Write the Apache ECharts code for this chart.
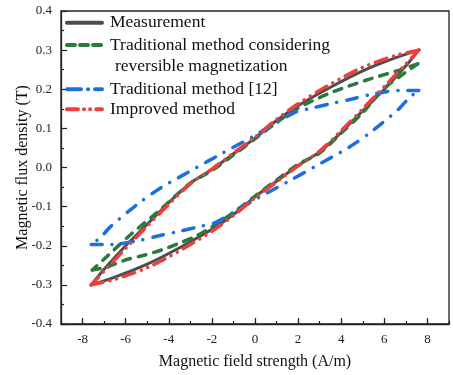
<!DOCTYPE html>
<html>
<head>
<meta charset="utf-8">
<script src="https://cdn.jsdelivr.net/npm/echarts@6/dist/echarts.min.js"></script>
<style>html,body{margin:0;padding:0;background:#fff}#c{width:453px;height:375px}</style>
</head>
<body>
<div id="c"></div>
<script>
// Measurement loop
const measUpperH = [7.6, 6.5, 5, 3.5, 2, 1, 0, -1, -2, -3, -4, -5, -6, -7, -7.6];
const measUpperB = [0.30, 0.28, 0.247, 0.205, 0.158, 0.12, 0.075, 0.035, -0.005, -0.04, -0.09, -0.145, -0.2, -0.26, -0.30];
const measLowerH = [-7.6, -6.5, -5, -3.5, -2, -1, 0, 1, 2, 3, 4, 5, 6, 7, 7.6];
const measLowerB = [-0.30, -0.28, -0.247, -0.205, -0.158, -0.12, -0.075, -0.035, 0.005, 0.04, 0.09, 0.145, 0.2, 0.26, 0.30];
// Traditional method considering reversible magnetization
const revUpperH = [7.55, 6.7, 5.15, 3.6, 2, 1, 0, -1, -2, -3, -4.5, -5.7, -6.9, -7.55];
const revUpperB = [0.265, 0.249, 0.223, 0.193, 0.152, 0.115, 0.073, 0.032, -0.008, -0.04, -0.113, -0.168, -0.229, -0.262];
const revLowerH = [-7.55, -6.8, -6, -5.2, -4.3, -3.5, -2.8, -2, -1, 0, 1, 2, 3, 4, 5, 5.9, 6.7, 7.55];
const revLowerB = [-0.262, -0.253, -0.236, -0.225, -0.21, -0.193, -0.177, -0.152, -0.115, -0.073, -0.032, 0.008, 0.037, 0.088, 0.14, 0.198, 0.232, 0.265];
// Traditional method [12]
const tradUpperH = [7.6, 6.8, 5.5, 4.5, 3.5, 2.5, 1.9, 0.8, 0, -1.5, -2.9, -4.4, -5.5, -6.7, -7.15, -7.6];
const tradUpperB = [0.197, 0.197, 0.188, 0.175, 0.163, 0.15, 0.142, 0.108, 0.082, 0.037, -0.006, -0.053, -0.096, -0.151, -0.178, -0.197];
const tradLowerH = [-7.6, -6.8, -5.5, -4.5, -3.5, -2.5, -1.9, -0.8, 0, 1.5, 2.9, 4.4, 5.5, 6.7, 7.15, 7.6];
const tradLowerB = [-0.197, -0.197, -0.188, -0.175, -0.163, -0.15, -0.142, -0.108, -0.082, -0.037, 0.006, 0.053, 0.096, 0.151, 0.178, 0.197];
// Improved method
const impUpperH = [7.6, 6.5, 5, 3.5, 2, 1, 0, -1, -2, -3, -4, -5, -6, -7, -7.6];
const impUpperB = [0.30, 0.286, 0.256, 0.213, 0.163, 0.123, 0.078, 0.037, -0.004, -0.042, -0.094, -0.15, -0.207, -0.265, -0.30];
const impLowerH = [-7.6, -6.5, -5, -3.5, -2, -1, 0, 1, 2, 3, 4, 5, 6, 7, 7.6];
const impLowerB = [-0.30, -0.286, -0.256, -0.213, -0.163, -0.123, -0.078, -0.037, 0.004, 0.042, 0.094, 0.15, 0.207, 0.265, 0.30];

const names = ['Measurement', 'Traditional method considering', 'Traditional method [12]', 'Improved method'];
const xName = 'Magnetic field strength (A/m)';
const yName = 'Magnetic flux density (T)';
const legendSecondLine = 'reversible magnetization';

const FONT = '"Liberation Serif", "Times New Roman", serif';
const zip = (a, b) => a.map((v, i) => [v, b[i]]);

const styles = [
  { color: '#4d4d4d', width: 3, type: 'solid' },
  { color: '#2b7a3d', width: 3.5, type: [8, 8] },
  { color: '#1c6fe0', width: 3.5, type: [11, 10, 0.1, 10] },
  { color: '#f03e3e', width: 3.5, type: [12, 7, 0.1, 7, 0.1, 7] }
];
const legendLine = [
  { color: '#4d4d4d', width: 4, type: 'solid', cap: 'round' },
  { color: '#2b7a3d', width: 4, type: [8, 5], cap: 'round' },
  { color: '#1c6fe0', width: 4, type: [14, 7, 0.1, 7], cap: 'round' },
  { color: '#f03e3e', width: 4, type: [11, 6, 0.1, 6, 0.1, 6], cap: 'round' }
];
const branches = [
  [zip(measUpperH, measUpperB), zip(measLowerH, measLowerB)],
  [zip(revUpperH, revUpperB), zip(revLowerH, revLowerB)],
  [zip(tradUpperH, tradUpperB), zip(tradLowerH, tradLowerB)],
  [zip(impUpperH, impUpperB), zip(impLowerH, impLowerB)]
];
const series = [];
branches.forEach((br, i) => {
  br.forEach(d => {
    series.push({
      name: names[i], type: 'line', data: d, smooth: 0.3, symbol: 'none',
      xAxisIndex: 0, yAxisIndex: 0, z: 2 + i,
      lineStyle: { color: styles[i].color, width: styles[i].width, type: styles[i].type, cap: 'round' },
      itemStyle: { color: styles[i].color },
      emphasis: { disabled: true }, animation: false
    });
  });
});

const chart = echarts.init(document.getElementById('c'), null, { renderer: 'canvas' });
const legendText = { fontFamily: FONT, fontSize: 17.5, color: '#111', lineHeight: 18, padding: [0, 0, 0, 3] };
const legendCommon = { orient: 'vertical', left: 65, itemWidth: 35, itemHeight: 14, padding: 0, textStyle: legendText, selectedMode: false, itemStyle: { opacity: 0, borderWidth: 0 } };
const legendItem = i => ({ name: names[i], lineStyle: legendLine[i] });
chart.setOption({
  animation: false,
  grid: { left: 61, right: 4, top: 11, bottom: 51, show: true, borderColor: '#222', borderWidth: 1.3, backgroundColor: 'transparent' },
  legend: [
    Object.assign({ data: [legendItem(0), legendItem(1)], top: 13.7, itemGap: 4.3 }, legendCommon),
    Object.assign({ data: [legendItem(2), legendItem(3)], top: 80.3, itemGap: 2 }, legendCommon)
  ],
  graphic: [
    { type: 'text', left: 115, top: 57.5, style: { text: legendSecondLine, font: '17.5px ' + FONT, fill: '#111' } }
  ],
  xAxis: [
    {
      type: 'value', min: -9, max: 9, splitNumber: 8, position: 'bottom',
      name: xName, nameLocation: 'middle', nameGap: 30, nameMoveOverlap: false,
      nameTextStyle: { fontFamily: FONT, fontSize: 16, color: '#111' },
      axisLine: { onZero: false, lineStyle: { color: '#222', width: 1.3 } },
      axisTick: { inside: true, length: 6, lineStyle: { color: '#222', width: 1.2 } },
      axisLabel: { showMinLabel: false, showMaxLabel: false, margin: 9, fontFamily: FONT, fontSize: 13, color: '#222',
        formatter: v => (Math.abs(v) === 9 ? '' : String(v)) },
      splitLine: { show: false }
    },
    {
      type: 'value', min: -9, max: 9, interval: 1, position: 'bottom', offset: 0,
      axisLine: { show: false, onZero: false },
      axisTick: { inside: true, length: 3, lineStyle: { color: '#222', width: 1.2 } },
      axisLabel: { show: false }, splitLine: { show: false }
    }
  ],
  yAxis: {
    type: 'value', min: -0.4, max: 0.4, interval: 0.1,
    name: yName, nameLocation: 'middle', nameGap: 30, nameMoveOverlap: false,
    nameTextStyle: { fontFamily: FONT, fontSize: 16, color: '#111' },
    axisLine: { onZero: false, lineStyle: { color: '#222', width: 1.3 } },
    axisTick: { inside: true, length: 6, lineStyle: { color: '#222', width: 1.2 } },
    minorTick: { show: true, splitNumber: 2, length: 3, lineStyle: { color: '#222', width: 1.2 } },
    axisLabel: { margin: 9, fontFamily: FONT, fontSize: 13, color: '#222', formatter: v => v.toFixed(1) },
    splitLine: { show: false }
  },
  series: series
});
</script>
</body>
</html>
